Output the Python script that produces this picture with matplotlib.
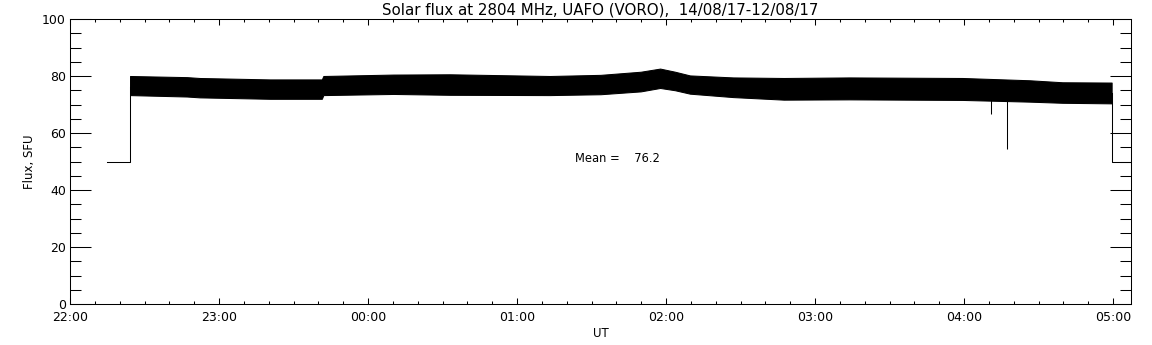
"""
Solar flux at 2804 MHz, UAFO (VORO) -- daily radiometer trace.
Time axis is hours after 22:00 UT.
"""
import numpy as np
import matplotlib
matplotlib.use('Agg')
import matplotlib.pyplot as plt
from matplotlib.ticker import MultipleLocator

# ── data ──────────────────────────────────────────────────────────────────────
# envelope of the noisy flux band, hours after 22:00
band_t     = [0.403, 0.785, 0.87, 1.342, 1.69, 1.70, 2.17, 2.55, 3.22, 3.56,
              3.83, 3.96, 4.06, 4.16, 4.45, 4.79, 5.23, 5.99, 6.44, 6.66, 6.99]
band_upper = [80.0, 79.6, 79.3, 78.8, 78.8, 80.0, 80.5, 80.6, 80.0, 80.4,
              81.5, 82.6, 81.5, 80.2, 79.5, 79.3, 79.5, 79.3, 78.5, 77.8, 77.7]
band_lower = [73.3, 72.8, 72.5, 72.0, 72.0, 73.3, 73.7, 73.4, 73.3, 73.6,
              74.6, 75.8, 75.0, 73.8, 72.6, 71.7, 71.8, 71.6, 71.0, 70.6, 70.4]

# calibration step before / after the observing run
pre_t  = [0.248, 0.403, 0.403]
pre_v  = [50.0, 50.0, 76.0]
post_t = [6.99, 6.99, 7.12]
post_v = [74.0, 50.0, 50.0]

# interference spikes: (time, bottom value)
spike_t   = [6.18, 6.29]
spike_bot = [66.7, 54.5]
spike_top = [72.0, 72.0]

MEAN_FLUX   = 76.2
hour_labels = ['22:00', '23:00', '00:00', '01:00', '02:00', '03:00', '04:00', '05:00']

# ── figure ────────────────────────────────────────────────────────────────────
plt.rcParams['font.family'] = 'DejaVu Sans'
fig = plt.figure(figsize=(11.52, 3.45), dpi=100)
ax = fig.add_axes([70 / 1152, 41 / 345, 1061 / 1152, 285 / 345])

lw = 0.75
ax.fill_between(band_t, band_lower, band_upper, color='black', linewidth=lw)
ax.plot(pre_t, pre_v, color='black', linewidth=lw)
ax.plot(post_t, post_v, color='black', linewidth=lw)
ax.vlines(spike_t, spike_bot, spike_top, color='black', linewidth=lw)

ax.text(3.39, 51, f'Mean =    {MEAN_FLUX:.1f}', fontsize=8.3, va='center', ha='left')

ax.set_xlim(0, 7.12)
ax.set_ylim(0, 100)
ax.set_xticks(range(len(hour_labels)))
ax.set_xticklabels(hour_labels)
ax.xaxis.set_minor_locator(MultipleLocator(1 / 6))
ax.yaxis.set_major_locator(MultipleLocator(20))
ax.yaxis.set_minor_locator(MultipleLocator(5))

ax.tick_params(axis='both', which='both', direction='in', top=True, right=True,
               width=lw, labelsize=9, colors='black')
ax.tick_params(axis='y', which='major', length=15, pad=3)
ax.tick_params(axis='y', which='minor', length=8)
ax.tick_params(axis='x', which='major', length=4, pad=5)
ax.tick_params(axis='x', which='minor', length=2.2)
for sp in ax.spines.values():
    sp.set_linewidth(lw)

ax.set_xlabel('UT', fontsize=8.5, labelpad=2)
ax.set_ylabel('Flux, SFU', fontsize=8.5, labelpad=4)
ax.set_title('Solar flux at 2804 MHz, UAFO (VORO),  14/08/17-12/08/17',
             fontsize=10.8, pad=3)

fig.savefig('out.png', dpi=100)
